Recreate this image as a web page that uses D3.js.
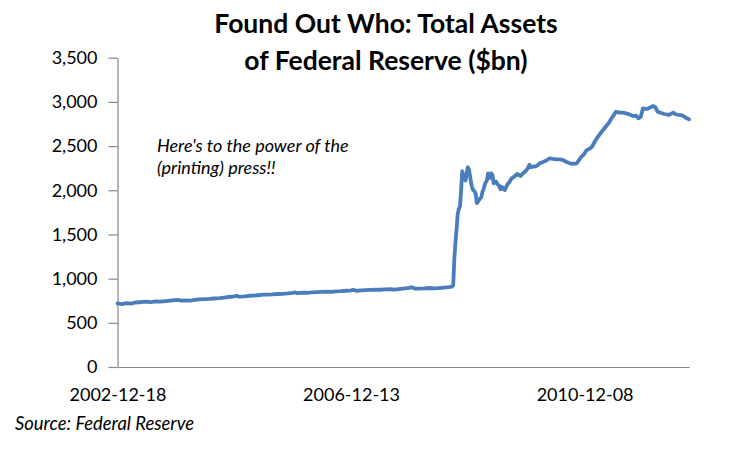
<!DOCTYPE html>
<html><head><meta charset="utf-8">
<script src="https://cdn.jsdelivr.net/npm/d3@7"></script>
<style>body{margin:0;background:#fff}svg{display:block}</style>
</head><body><svg id="c" width="750" height="451"></svg>
<script>
const dates = [
"2002-12-18","2003-01-15","2003-02-12","2003-03-12","2003-04-09","2003-05-14","2003-06-11","2003-07-16","2003-08-13","2003-09-10","2003-10-15","2003-11-12","2003-12-10","2003-12-31","2004-01-14","2004-02-11","2004-03-17","2004-04-14","2004-05-12","2004-06-16","2004-07-14","2004-08-11","2004-09-15","2004-10-13","2004-11-10","2004-12-15","2004-12-29","2005-01-12","2005-02-16","2005-03-16","2005-04-13","2005-05-11","2005-06-15","2005-07-13","2005-08-10","2005-09-14","2005-10-12","2005-11-16","2005-12-14","2005-12-28","2006-01-11","2006-02-15","2006-03-15","2006-04-12","2006-05-17","2006-06-14","2006-07-12","2006-08-16","2006-09-13","2006-10-11","2006-11-15","2006-12-13","2006-12-27","2007-01-17","2007-02-14","2007-03-14","2007-04-11","2007-05-16","2007-06-13","2007-07-11","2007-08-15","2007-09-12","2007-10-17","2007-11-14","2007-12-12","2007-12-26","2008-01-16","2008-02-13","2008-03-12","2008-04-16","2008-05-14","2008-06-11","2008-07-16","2008-08-13","2008-09-03","2008-09-10","2008-09-17","2008-09-24","2008-10-01","2008-10-08","2008-10-15","2008-10-22","2008-10-29","2008-11-05","2008-11-12","2008-11-19","2008-11-26","2008-12-03","2008-12-10","2008-12-17","2008-12-24","2008-12-31","2009-01-07","2009-01-14","2009-01-21","2009-01-28","2009-02-04","2009-02-11","2009-02-18","2009-02-25","2009-03-04","2009-03-11","2009-03-18","2009-03-25","2009-04-01","2009-04-08","2009-04-15","2009-04-22","2009-04-29","2009-05-06","2009-05-13","2009-05-20","2009-05-27","2009-06-03","2009-06-10","2009-06-17","2009-06-24","2009-07-01","2009-07-08","2009-07-15","2009-07-22","2009-07-29","2009-08-05","2009-08-12","2009-08-19","2009-08-26","2009-09-09","2009-09-23","2009-10-14","2009-10-28","2009-11-04","2009-11-18","2009-12-02","2009-12-16","2009-12-30","2010-01-06","2010-01-20","2010-02-03","2010-02-17","2010-03-03","2010-03-17","2010-04-07","2010-05-05","2010-05-26","2010-06-16","2010-07-07","2010-07-28","2010-08-18","2010-09-08","2010-09-29","2010-10-20","2010-11-03","2010-11-17","2010-12-01","2010-12-22","2011-01-12","2011-01-26","2011-02-09","2011-02-23","2011-03-09","2011-03-23","2011-04-06","2011-04-27","2011-05-11","2011-05-25","2011-06-08","2011-06-22","2011-07-06","2011-07-20","2011-08-03","2011-08-24","2011-09-14","2011-10-05","2011-10-26","2011-11-09","2011-11-23","2011-12-07","2011-12-21","2012-01-04","2012-01-18","2012-02-08","2012-02-22","2012-03-07","2012-03-21","2012-04-18","2012-05-16","2012-06-13","2012-06-27","2012-07-18","2012-08-01","2012-08-15","2012-09-05","2012-09-19"
];
const values = [
720,712,722,718,730,735,740,733,742,739,745,750,756,760,752,755,752,760,765,768,770,775,780,786,792,800,806,797,800,806,808,812,818,820,822,826,828,834,840,844,835,840,840,845,848,850,852,850,856,858,863,868,872,862,866,869,872,876,874,878,880,876,884,890,896,904,886,888,890,894,890,893,898,903,910,925,1230,1410,1560,1730,1790,1815,1990,2215,2170,2135,2110,2190,2260,2240,2160,2080,2022,2000,1990,1960,1855,1870,1890,1909,1920,1980,2010,2060,2090,2110,2191,2170,2140,2191,2170,2079,2090,2100,2079,2060,2050,2011,2040,2030,2010,2003,2030,2060,2080,2090,2135,2150,2184,2170,2161,2190,2210,2240,2290,2260,2267,2270,2280,2305,2315,2330,2362,2355,2350,2350,2340,2320,2305,2300,2305,2340,2380,2400,2456,2474,2500,2550,2590,2625,2660,2690,2738,2770,2814,2850,2889,2880,2878,2878,2870,2859,2840,2845,2814,2830,2927,2920,2920,2935,2953,2940,2889,2880,2863,2852,2878,2860,2852,2850,2840,2814,2803
];
const yTicks = [0,500,1000,1500,2000,2500,3000,3500];
const xTickLabels = ["2002-12-18","2006-12-13","2010-12-08"];
const titleLines = ["Found Out Who: Total Assets","of Federal Reserve ($bn)"];
const noteLines = ["Here's to the power of the","(printing) press!!"];
const sourceText = "Source: Federal Reserve";

const parse = d3.utcParse("%Y-%m-%d");
const data = dates.map((d,i)=>({date:parse(d), v:values[i]}));

const svg = d3.select("#c");
const x = d3.scaleUtc().domain([data[0].date, data[data.length-1].date]).range([117.5, 689]);
const y = d3.scaleLinear().domain([0,3500]).range([367, 57.7]);

const FONT = "Lato, 'Open Sans', sans-serif";

// Y axis
const gy = svg.append("g").attr("transform","translate(117.5,0)")
  .call(d3.axisLeft(y).tickValues(yTicks).tickSize(9).tickSizeOuter(0).tickPadding(11).tickFormat(d3.format(",")));
gy.select(".domain").attr("stroke","#868686").attr("stroke-width",1.2);
gy.selectAll(".tick line").attr("stroke","#868686").attr("stroke-width",1.2);
gy.selectAll(".tick text").attr("font-family",FONT).attr("font-size",18).attr("fill","#000");

// X axis
const gx = svg.append("g").attr("transform","translate(0,367)")
  .call(d3.axisBottom(x).tickValues(xTickLabels.map(parse)).tickSize(0).tickSizeOuter(0).tickFormat(d3.utcFormat("%Y-%m-%d")));
gx.select(".domain").attr("stroke","#868686").attr("stroke-width",1.2);
gx.selectAll(".tick text").attr("font-family",FONT).attr("font-size",18).attr("fill","#000").attr("y",34).attr("dy",0);

// Line
svg.append("path").datum(data)
  .attr("fill","none").attr("stroke","#4A7EBB").attr("stroke-width",3.8)
  .attr("stroke-linejoin","round").attr("stroke-linecap","round")
  .attr("d", d3.line().x(d=>x(d.date)).y(d=>y(d.v)));

// Title
svg.append("g").selectAll("text").data(titleLines).join("text")
  .attr("x",386).attr("y",(d,i)=>33+i*37).attr("text-anchor","middle")
  .attr("font-family",FONT).attr("font-weight","bold").attr("font-size",26.5).attr("fill","#000")
  .text(d=>d);

// Annotation
svg.append("g").selectAll("text").data(noteLines).join("text")
  .attr("x",157).attr("y",(d,i)=>152+i*22).attr("font-family",FONT).attr("font-style","italic")
  .attr("font-size",18).attr("fill","#000").text(d=>d);

// Source
svg.append("text").attr("x",15).attr("y",430).attr("font-family",FONT).attr("font-style","italic")
  .attr("font-size",18.4).attr("fill","#000").text(sourceText);
</script></body></html>
